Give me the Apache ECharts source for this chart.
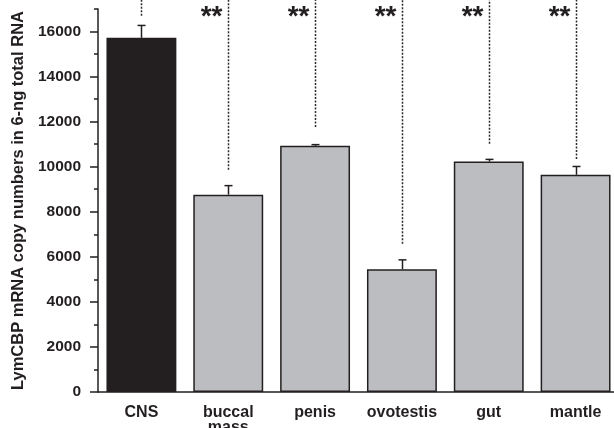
<!DOCTYPE html>
<html><head><meta charset="utf-8">
<script src="https://cdn.jsdelivr.net/npm/echarts@6/dist/echarts.min.js"></script>
<style>html,body{margin:0;padding:0;background:#fff}#c{width:614px;height:428px}</style>
</head><body><div id="c"></div>
<script>
const categories = ['CNS', 'buccal\nmass', 'penis', 'ovotestis', 'gut', 'mantle'];
const meanValues = [15720, 8760, 10930, 5450, 10230, 9640];
const errorTops = [16270, 9160, 10980, 5865, 10325, 10010];
const dottedStarts = [16700, 9870, 11760, 6580, 11020, 10340];
const signifMarks = ['', '**', '**', '**', '**', '**'];
const yTickValues = [0, 2000, 4000, 6000, 8000, 10000, 12000, 14000, 16000];
const yMinorTickValues = [1000, 3000, 5000, 7000, 9000, 11000, 13000, 15000, 17000];
const yName = 'LymCBP mRNA copy numbers in 6-ng total RNA';

const FONT = '"Liberation Sans", Arial, sans-serif';
const chart = echarts.init(document.getElementById('c'), null, {renderer: 'canvas'});
const TOP_VALUE = 17450;

chart.setOption({
  animation: false,
  backgroundColor: '#ffffff',
  grid: {left: 98, width: 521, top: 9, bottom: 36, containLabel: false, outerBoundsMode: 'none'},
  xAxis: {
    type: 'category',
    data: categories,
    boundaryGap: true,
    axisLine: {lineStyle: {color: '#231f20', width: 1.5}},
    axisTick: {show: false},
    axisLabel: {color: '#231f20', fontFamily: FONT, fontWeight: 'bold', fontSize: 16, margin: 13, lineHeight: 15, interval: 0}
  },
  yAxis: [{
    type: 'value', min: 0, max: 17000, interval: 2000,
    name: yName, nameLocation: 'middle', nameGap: 70,
    nameTextStyle: {color: '#231f20', fontFamily: FONT, fontWeight: 'bold', fontSize: 16.5},
    axisLine: {show: true, lineStyle: {color: '#231f20', width: 1.5}},
    axisTick: {show: true, length: 8, lineStyle: {color: '#231f20', width: 1.5}, customValues: yTickValues},
    axisLabel: {color: '#231f20', fontFamily: FONT, fontWeight: 'bold', fontSize: 15.5, margin: 17,
      customValues: yTickValues, formatter: v => String(v)},
    splitLine: {show: false}
  }, {
    type: 'value', min: 0, max: 17000, interval: 1000, position: 'left',
    axisLine: {show: false},
    axisTick: {show: true, length: 4, lineStyle: {color: '#231f20', width: 1.5}, customValues: yMinorTickValues},
    axisLabel: {show: false},
    splitLine: {show: false}
  }],
  series: [{
    type: 'bar',
    data: meanValues.map((v, i) => ({value: v, itemStyle: {color: i === 0 ? '#231f20' : '#bcbdc1'}})),
    barWidth: '80.5%',
    itemStyle: {borderColor: '#231f20', borderWidth: 1.5}
  }, {
    type: 'custom',
    clip: false,
    z: 5,
    data: meanValues.map((v, i) => [i, v, errorTops[i], dottedStarts[i], signifMarks[i]]),
    renderItem: function (params, api) {
      const x = api.value(0);
      const pBar = api.coord([x, api.value(1)]);
      const pErr = api.coord([x, api.value(2)]);
      const pDot = api.coord([x, api.value(3)]);
      const pTop = api.coord([x, TOP_VALUE]);
      const pStar = api.coord([x, 16900]);
      const cx = Math.round(pBar[0]) + 0.5;
      const children = [
        {type: 'line', shape: {x1: cx, y1: pBar[1], x2: cx, y2: pErr[1]}, style: {stroke: '#231f20', lineWidth: 1.5}},
        {type: 'line', shape: {x1: cx - 4, y1: pErr[1], x2: cx + 4, y2: pErr[1]}, style: {stroke: '#231f20', lineWidth: 1.5}},
        {type: 'line', shape: {x1: cx, y1: pDot[1], x2: cx, y2: pTop[1]}, style: {stroke: '#2a2a2a', lineWidth: 1.5, lineDash: [2, 1.5]}}
      ];
      const mark = api.value(4);
      if (mark) {
        children.push({type: 'text', style: {text: mark, x: cx - 6, y: pStar[1] + 6, align: 'right', verticalAlign: 'middle',
          fill: '#231f20', font: 'bold 28px ' + FONT}});
      }
      return {type: 'group', children: children};
    }
  }]
});
</script></body></html>
